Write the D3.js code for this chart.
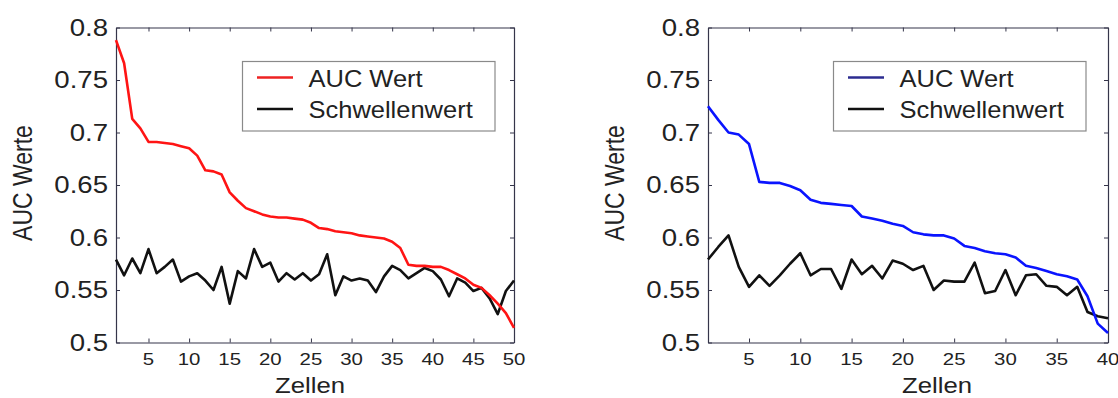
<!DOCTYPE html>
<html>
<head>
<meta charset="utf-8">
<script src="https://cdn.jsdelivr.net/npm/d3@7"></script>
<style>
html,body{margin:0;padding:0;background:#fff;}
svg{display:block;}
text{font-family:"Liberation Sans",Arial,Helvetica,sans-serif;fill:#222;}
</style>
</head>
<body>
<svg id="chart" width="1118" height="398"></svg>
<script>
// ---- data ----
const yTicks = [0.5, 0.55, 0.6, 0.65, 0.7, 0.75, 0.8];
const yTickLabels = ["0.5", "0.55", "0.6", "0.65", "0.7", "0.75", "0.8"];
const xTicksLeft = [5, 10, 15, 20, 25, 30, 35, 40, 45, 50];
const xTicksRight = [5, 10, 15, 20, 25, 30, 35, 40];
const legendLabels = ["AUC Wert", "Schwellenwert"];
const xLabel = "Zellen";
const yLabel = "AUC Werte";

const aucLeft = [0.788,0.766,0.713,0.704,0.691,0.691,0.690,0.689,0.687,0.685,
  0.678,0.664,0.663,0.660,0.643,0.635,0.628,0.625,0.622,0.620,
  0.619,0.619,0.618,0.617,0.614,0.609,0.608,0.606,0.605,0.604,
  0.602,0.601,0.600,0.599,0.596,0.590,0.574,0.573,0.573,0.572,
  0.572,0.569,0.565,0.561,0.555,0.552,0.545,0.537,0.528,0.514];
const thrLeft = [0.579,0.564,0.580,0.566,0.589,0.566,0.572,0.579,0.558,0.563,
  0.566,0.559,0.550,0.572,0.537,0.568,0.561,0.589,0.572,0.576,
  0.558,0.566,0.560,0.566,0.559,0.565,0.584,0.545,0.563,0.559,
  0.561,0.559,0.548,0.563,0.573,0.569,0.561,0.566,0.571,0.568,
  0.560,0.544,0.561,0.557,0.549,0.552,0.542,0.527,0.549,0.559];
const aucRight = [0.725,0.712,0.700,0.698,0.689,0.653,0.652,0.652,0.649,0.645,
  0.636,0.633,0.632,0.631,0.630,0.620,0.618,0.616,0.613,0.611,
  0.605,0.603,0.602,0.602,0.599,0.592,0.590,0.587,0.585,0.584,
  0.581,0.573,0.571,0.568,0.565,0.563,0.560,0.544,0.518,0.509];
const thrRight = [0.579,0.591,0.602,0.572,0.553,0.564,0.554,0.564,0.575,0.585,
  0.564,0.570,0.570,0.551,0.579,0.565,0.573,0.561,0.578,0.575,
  0.569,0.573,0.550,0.559,0.558,0.558,0.576,0.547,0.549,0.569,
  0.545,0.564,0.565,0.554,0.553,0.545,0.553,0.529,0.525,0.523];

// ---- drawing ----
const svg = d3.select("#chart");
const axisColor = "#35354a";

function panel(cfg) {
  const g = svg.append("g");
  const n = cfg.auc.length;
  const x = d3.scaleLinear().domain([1, n]).range([cfg.left, cfg.right]);
  const y = d3.scaleLinear().domain([0.5, 0.8]).range([cfg.bottom, cfg.top]);

  const styleAxis = sel => {
    sel.selectAll("path").attr("stroke", axisColor).attr("stroke-width", 1.2);
    sel.selectAll("line").attr("stroke", axisColor).attr("stroke-width", 1);
    sel.selectAll("text").remove();
  };
  g.append("g").attr("transform", `translate(0,${cfg.bottom})`)
    .call(d3.axisBottom(x).tickValues(cfg.xTicks).tickSizeInner(-4).tickSizeOuter(0)).call(styleAxis);
  g.append("g").attr("transform", `translate(0,${cfg.top})`)
    .call(d3.axisTop(x).tickValues(cfg.xTicks).tickSizeInner(-4).tickSizeOuter(0)).call(styleAxis);
  g.append("g").attr("transform", `translate(${cfg.left},0)`)
    .call(d3.axisLeft(y).tickValues(yTicks).tickSizeInner(-4).tickSizeOuter(0)).call(styleAxis);
  g.append("g").attr("transform", `translate(${cfg.right},0)`)
    .call(d3.axisRight(y).tickValues(yTicks).tickSizeInner(-4).tickSizeOuter(0)).call(styleAxis);

  // y tick labels
  g.selectAll(".ytl").data(yTicks).join("text")
    .attr("text-anchor", "end")
    .attr("font-size", 23)
    .attr("transform", d => `translate(${cfg.left - 8},${y(d) + 8.2}) scale(1.2,1)`)
    .text((d, i) => yTickLabels[i]);
  // x tick labels
  g.selectAll(".xtl").data(cfg.xTicks).join("text")
    .attr("text-anchor", "middle")
    .attr("font-size", 17)
    .attr("transform", d => `translate(${x(d)},${cfg.bottom + 22.5}) scale(1.2,1)`)
    .text(d => String(d));
  // axis labels
  g.append("text").attr("text-anchor", "middle").attr("font-size", 23)
    .attr("transform", `translate(${cfg.xLabelX},392.5) scale(1.12,1)`).text(xLabel);
  g.append("text").attr("text-anchor", "middle").attr("font-size", 23)
    .attr("transform", `translate(${cfg.yLabelX},${(cfg.top + cfg.bottom) / 2 - 2}) scale(1.17,1) rotate(-90)`)
    .text(yLabel);

  const line = d3.line().x((d, i) => x(i + 1)).y(d => y(d));
  g.append("path").datum(cfg.thr).attr("d", line)
    .attr("fill", "none").attr("stroke", "#111").attr("stroke-width", 2.6).attr("stroke-linejoin", "round");
  g.append("path").datum(cfg.auc).attr("d", line)
    .attr("fill", "none").attr("stroke", cfg.color).attr("stroke-width", 2.6).attr("stroke-linejoin", "round");

  // legend
  const L = cfg.legend;
  g.append("rect").attr("x", L.x).attr("y", L.y).attr("width", L.w).attr("height", L.h)
    .attr("fill", "#fff").attr("stroke", "#8a8a8a").attr("stroke-width", 1.2);
  const legendColors = [cfg.legendColor, "#111"];
  legendLabels.forEach((lab, i) => {
    const ly = L.y + 16 + i * 31.5;
    g.append("line").attr("x1", L.x + 14.5).attr("x2", L.x + 50.5).attr("y1", ly).attr("y2", ly)
      .attr("stroke", legendColors[i]).attr("stroke-width", 2.6);
    g.append("text").attr("font-size", 24.5)
      .attr("transform", `translate(${L.x + 66},${ly + 9}) scale(1.04,1)`).text(lab);
  });
}

panel({left: 116, right: 514, top: 27.5, bottom: 342.5, auc: aucLeft, thr: thrLeft,
  xTicks: xTicksLeft, color: "#ff1414", legendColor: "#ee2222",
  legend: {x: 242.5, y: 61.5, w: 252.5, h: 69.5}, xLabelX: 310, yLabelX: 31.5});
panel({left: 708, right: 1108, top: 27.5, bottom: 342.5, auc: aucRight, thr: thrRight,
  xTicks: xTicksRight, color: "#0a14ff", legendColor: "#2c2c90",
  legend: {x: 833.5, y: 61.5, w: 252.5, h: 69.5}, xLabelX: 937, yLabelX: 623.5});
</script>
</body>
</html>
